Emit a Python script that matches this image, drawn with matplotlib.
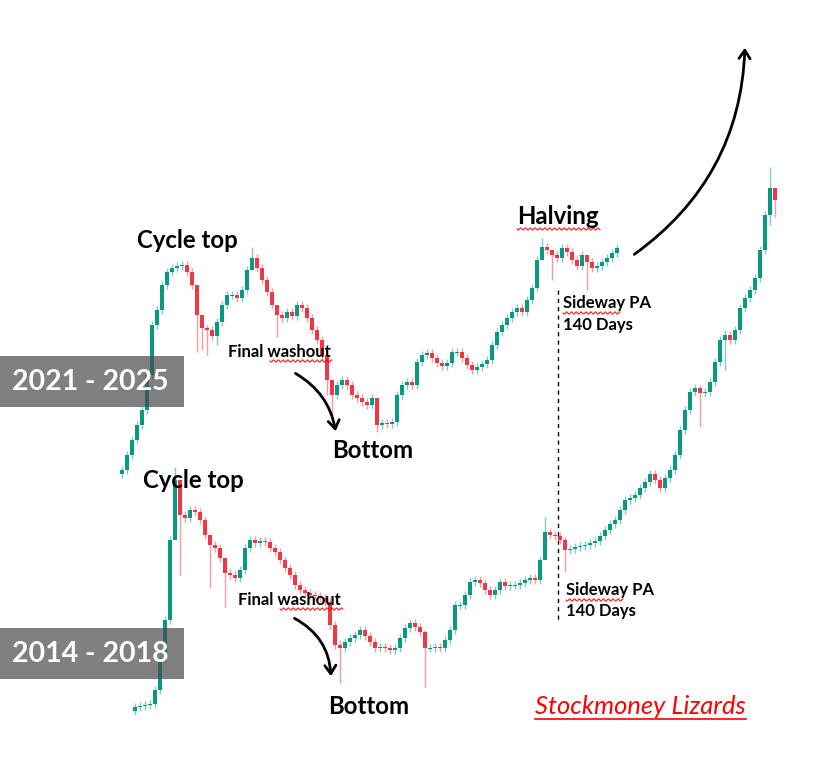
import numpy as np
import matplotlib.pyplot as plt
from matplotlib.patches import FancyArrowPatch, Rectangle

# candle closes (screen rows, smaller = higher price)
s1_x0, s1_step = 122, 5
s1_close = [470, 455, 440, 425, 410, 375, 325, 310, 285, 272, 268, 266, 265, 272, 285,
            315, 328, 330, 336, 322, 305, 295, 295, 298, 290, 270, 258, 268, 280, 292,
            305, 315, 318, 312, 316, 305, 308, 318, 330, 340, 355, 380, 395, 385, 380,
            385, 395, 398, 402, 405, 398, 425, 423, 424, 422, 395, 385, 382, 385, 362,
            355, 353, 358, 363, 366, 363, 352, 352, 358, 365, 370, 367, 364, 360, 345,
            332, 325, 318, 312, 308, 312, 300, 288, 260, 247, 250, 255, 258, 248, 252,
            260, 266, 255, 262, 268, 266, 262, 258, 253, 248]
# long wicks: candle index -> (high, low)
s1_wicks = {15: (312, 352), 16: (322, 350), 17: (325, 355), 19: (318, 345),
            26: (247, 262), 31: (310, 337), 41: (372, 395), 42: (385, 420),
            51: (398, 432), 84: (238, 252), 86: (250, 280), 93: (255, 290)}

s2_x0, s2_step = 135, 5
s2_close = [707, 706, 705, 704, 690, 660, 620, 540, 480, 515, 518, 510, 512, 520, 535,
            545, 548, 558, 573, 575, 578, 570, 548, 540, 543, 541, 542, 548, 552, 560,
            568, 575, 585, 590, 593, 595, 596, 598, 602, 625, 645, 648, 642, 638, 635,
            630, 636, 642, 648, 647, 648, 650, 648, 638, 628, 623, 627, 632, 648, 648,
            647, 648, 640, 630, 605, 605, 595, 582, 580, 583, 590, 595, 590, 582, 586,
            585, 585, 583, 580, 578, 580, 560, 532, 535, 536, 540, 550, 549, 547, 546,
            545, 543, 541, 536, 530, 524, 520, 510, 500, 498, 495, 488, 482, 474, 480,
            488, 478, 470, 455, 430, 410, 392, 388, 393, 392, 382, 362, 340, 335, 340,
            330, 308, 298, 290, 278, 250, 215, 188, 200]
s2_wicks = {8: (467, 490), 9: (500, 575), 15: (540, 588), 18: (560, 607),
            41: (640, 683), 58: (630, 687), 82: (517, 540), 86: (537, 572),
            113: (385, 427), 118: (330, 370), 127: (167, 225), 128: (190, 217)}

GREEN = '#089981'
RED = '#f23645'


def candles(ax, x0, step, close, wicks):
    close = np.asarray(close, dtype=float)
    opn = np.r_[close[0] + 4, close[:-1]]
    x = x0 + step * np.arange(len(close))
    up = close <= opn
    cols = np.where(up, GREEN, RED)
    top = np.minimum(opn, close)
    bot = np.maximum(opn, close)
    hi = top - 4
    lo = bot + 4
    for i, (h, l) in wicks.items():
        hi[i], lo[i] = h, l
    ax.vlines(x, hi, lo, colors=cols, linewidth=1, alpha=0.5, zorder=2)
    ax.bar(x, np.maximum(bot - top, 1.2), bottom=top, width=3.2, color=cols,
           linewidth=0, zorder=3)


def squiggle(ax, x0, x1, y):
    xs = np.linspace(x0, x1, 200)
    ax.plot(xs, y + 1.1 * np.sin((xs - x0) * 1.3), color='red', lw=0.7, zorder=6)


fig = plt.figure(figsize=(8.14, 7.61), dpi=100)
ax = fig.add_axes([0, 0, 1, 1])
ax.set_xlim(0, 814)
ax.set_ylim(761, 0)
ax.axis('off')

candles(ax, s1_x0, s1_step, s1_close, s1_wicks)
candles(ax, s2_x0, s2_step, s2_close, s2_wicks)

# year boxes
for y0, label in [(356, '2021 - 2025'), (628, '2014 - 2018')]:
    ax.add_patch(Rectangle((0, y0), 184, 51, color='#4a4a4a', alpha=0.7, lw=0, zorder=5))
    ax.text(90, y0 + 26, label, color='white', fontsize=20.5, fontweight='bold',
            family='Lato', ha='center', va='center', zorder=6)

big = dict(family='Lato', fontweight='bold', fontsize=17.3, va='center', ha='left', zorder=7)
small = dict(family='Lato', fontweight='bold', fontsize=12, va='center', ha='left', zorder=7)

ax.text(137, 240, 'Cycle top', **big)
ax.text(517, 216, 'Halving', **big)
ax.text(332, 451, 'Bottom', **big)
ax.text(143, 480, 'Cycle top', **big)
ax.text(328, 706, 'Bottom', **big)

ax.text(228, 352, 'Final washout', **small)
ax.text(238, 600, 'Final washout', **small)
ax.text(563, 303, 'Sideway PA', **small)
ax.text(563, 325, '140 Days', **small)
ax.text(566, 590, 'Sideway PA', **small)
ax.text(566, 611, '140 Days', **small)

squiggle(ax, 270, 332, 361)
squiggle(ax, 280, 343, 609)
squiggle(ax, 517, 600, 229)
squiggle(ax, 563, 620, 313)
squiggle(ax, 566, 623, 600)

ax.text(535, 707, 'Stockmoney Lizards', color='red', fontsize=18.4, style='italic',
        family='Lato', va='center', ha='left', zorder=7)
ax.plot([535, 746], [719, 719], color='red', lw=1.2)

ax.plot([558, 558], [290, 620], color='black', lw=1, ls=(0, (3, 3)), zorder=4)

for start, end, rad in [((293, 372), (336, 434), -0.25), ((292, 617), (331, 679), -0.3),
                        ((632, 256), (745, 45), 0.25)]:
    ax.add_patch(FancyArrowPatch(start, end, connectionstyle=f'arc3,rad={rad}',
                                 arrowstyle='->,head_length=6,head_width=4',
                                 lw=2, color='black', zorder=8))

fig.savefig('out.png', dpi=100)
